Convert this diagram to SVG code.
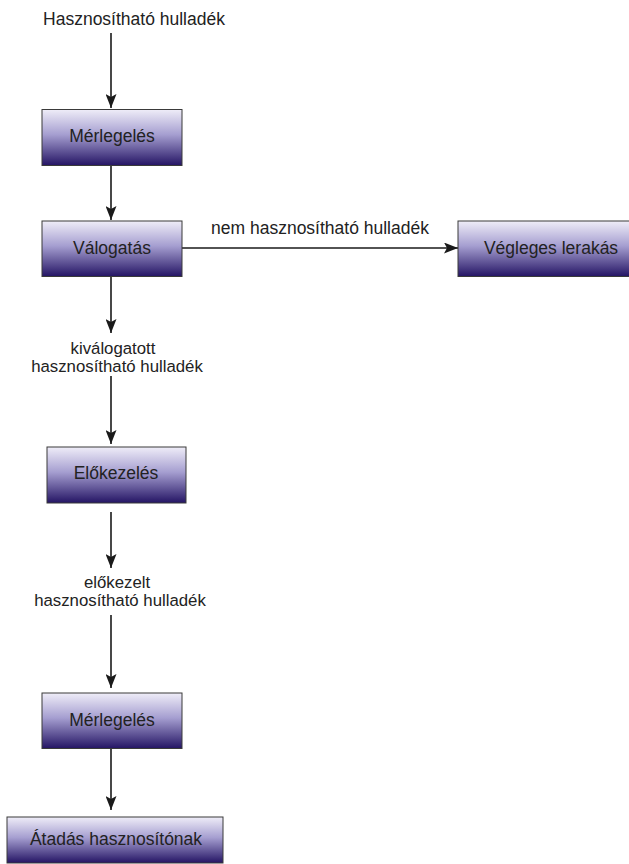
<svg xmlns="http://www.w3.org/2000/svg" width="629" height="864" viewBox="0 0 629 864">
<defs>
<linearGradient id="g" x1="0" y1="0" x2="0" y2="1">
<stop offset="0" stop-color="#efedf8"/>
<stop offset="0.45" stop-color="#a59ed0"/>
<stop offset="1" stop-color="#241464"/>
</linearGradient>
<marker id="ah" markerUnits="userSpaceOnUse" markerWidth="14" markerHeight="11" refX="14" refY="5.5" orient="auto" viewBox="0 0 14 11">
<path d="M0,0 L14,5.5 L0,11 L3,5.5 Z" fill="#1a1a1a"/>
</marker>
<style>
.box{fill:url(#g);stroke:#3a3a3a;stroke-width:1}
.t{font-family:"Liberation Sans",Arial,sans-serif;font-size:17.5px;fill:#222;text-anchor:middle}
.s{font-size:16.8px}
.c{stroke:#1a1a1a;stroke-width:1.6;fill:none;marker-end:url(#ah)}
</style>
</defs>
<g id="connectors">
<line class="c" x1="111" y1="33" x2="111" y2="108"/>
<line class="c" x1="111" y1="166" x2="111" y2="220"/>
<line class="c" x1="111" y1="277" x2="111" y2="333"/>
<line class="c" x1="111" y1="376" x2="111" y2="444"/>
<line class="c" x1="111" y1="512" x2="111" y2="568"/>
<line class="c" x1="111" y1="615" x2="111" y2="688"/>
<line class="c" x1="111" y1="749" x2="111" y2="810"/>
<line class="c" x1="182" y1="248" x2="458" y2="248"/>
</g>
<g id="labels">
<text class="t" x="134" y="25">Hasznosítható hulladék</text>
<text class="t" x="320" y="234">nem hasznosítható hulladék</text>
<text class="t s" x="113" y="354">kiválogatott</text>
<text class="t s" x="117" y="372">hasznosítható hulladék</text>
<text class="t s" x="117" y="588">előkezelt</text>
<text class="t s" x="120" y="606">hasznosítható hulladék</text>
</g>
<g id="merlegeles1">
<rect class="box" x="42" y="109.5" width="140" height="56"/>
<text class="t" x="112" y="142">Mérlegelés</text>
</g>
<g id="valogatas">
<rect class="box" x="42" y="221" width="140" height="55.5"/>
<text class="t" x="112" y="254">Válogatás</text>
</g>
<g id="vegleges">
<rect class="box" x="458" y="221" width="186" height="55.5"/>
<text class="t" x="551" y="254">Végleges lerakás</text>
</g>
<g id="elokezeles">
<rect class="box" x="47" y="447" width="139" height="56"/>
<text class="t" x="116" y="479">Előkezelés</text>
</g>
<g id="merlegeles2">
<rect class="box" x="42" y="693" width="140" height="55.5"/>
<text class="t" x="112" y="726">Mérlegelés</text>
</g>
<g id="atadas">
<rect class="box" x="7" y="817" width="216" height="46"/>
<text class="t" x="116" y="845">Átadás hasznosítónak</text>
</g>
</svg>
